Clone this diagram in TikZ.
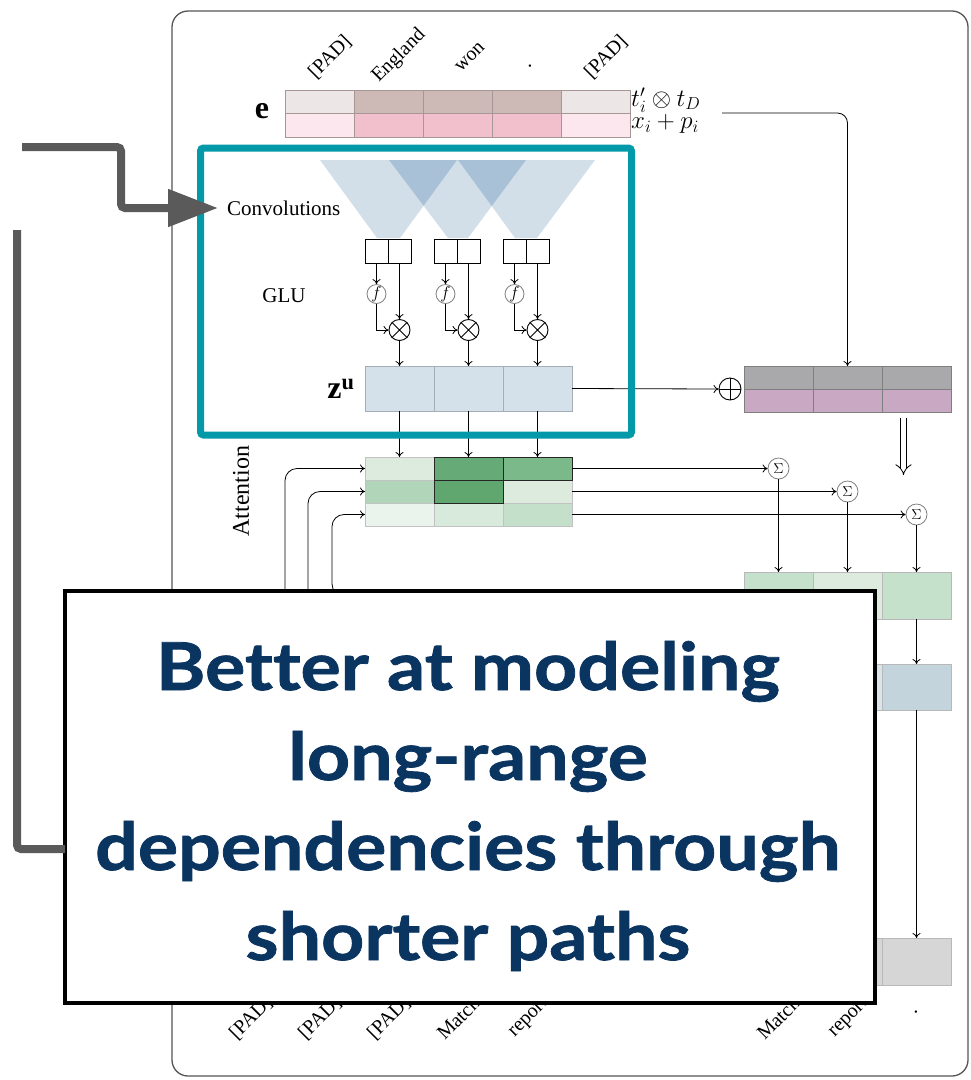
\documentclass[tikz,border=0pt]{standalone}
\usepackage{fontspec}
\setmainfont{Liberation Serif}
\newfontfamily\callout[FakeStretch=1.14, FakeBold=1.2, Ligatures=NoCommon]{Lato}
\usetikzlibrary{arrows.meta}
\definecolor{tealc}{HTML}{0499A8}
\definecolor{grayar}{HTML}{5A5A5A}
\definecolor{framec}{HTML}{555555}
\definecolor{navy}{HTML}{0B3561}
\definecolor{cellline}{HTML}{9A9A9A}
\definecolor{eline}{HTML}{A69796}
\definecolor{padt}{HTML}{ECE7E6}
\definecolor{wordt}{HTML}{CDB9B5}
\definecolor{padb}{HTML}{FBE7ED}
\definecolor{wordb}{HTML}{F2BFCC}
\definecolor{tric}{HTML}{D2DFE9}
\definecolor{triov}{HTML}{A9C1D6}
\definecolor{zuc}{HTML}{D4E0EA}
\definecolor{zul}{HTML}{A5AEB6}
\definecolor{rtc}{HTML}{A9A9AB}
\definecolor{rbc}{HTML}{C9A8C3}
\definecolor{rline}{HTML}{7F7F80}
\definecolor{gA}{HTML}{DDEBDE}
\definecolor{gB}{HTML}{66AB77}
\definecolor{gC}{HTML}{7CB98A}
\definecolor{gD}{HTML}{B1D5B8}
\definecolor{gE}{HTML}{5FA66F}
\definecolor{gF}{HTML}{EBF4EC}
\definecolor{gG}{HTML}{D8EADB}
\definecolor{gH}{HTML}{C4E0CA}
\definecolor{cA}{HTML}{C6E1CB}
\definecolor{cB}{HTML}{DCEBDD}
\definecolor{hA}{HTML}{D9E5EB}
\definecolor{hB}{HTML}{C3D4DD}
\definecolor{grC}{HTML}{D6D6D6}
\begin{document}
\begin{tikzpicture}[x=1pt,y=-1pt,
  cell/.style={draw=cellline, line width=0.8pt, minimum width=69pt, minimum height=23pt, inner sep=0pt, outer sep=0pt},
  arr/.style={-{To[length=5pt,width=8pt]}, line width=0.8pt},
  ln/.style={line width=0.8pt},
  lab/.style={font=\fontsize{21}{21}\selectfont, inner sep=0pt},
  tok/.style={rotate=45, font=\fontsize{20}{20}\selectfont, inner sep=0pt},
  gbox/.style={draw=black, line width=1pt, fill=white, minimum width=23pt, minimum height=24pt, inner sep=0pt, outer sep=0pt},
  fcirc/.style={circle, draw=gray, line width=0.8pt, minimum size=19pt, inner sep=0pt, font=\fontsize{18}{18}\selectfont},
  mcirc/.style={circle, draw=black, line width=0.9pt, minimum size=21pt, inner sep=0pt},
  sig/.style={circle, draw=gray, line width=0.8pt, minimum size=21pt, inner sep=0pt, font=\fontsize{14}{14}\selectfont},
  bigline/.style={grayar, line width=8pt, rounded corners=4pt}]
\useasboundingbox (0,0) rectangle (971,1080);
\fill[white] (0,0) rectangle (971,1080);
% frame
\draw[framec, line width=1.3pt, rounded corners=16pt] (172,11) rectangle (968,1076);
% top tokens
\node[tok] (tk1) at (330,57) {[PAD]};
\node[tok] (tk2) at (399,56) {England};
\node[tok] (tk3) at (470,57) {won};
\node[tok] (tk4) at (530,66) {.};
\node[tok] (tk5) at (606,57) {[PAD]};
% e row
\foreach \x/\ct/\cb [count=\i] in {320/padt/padb, 389/wordt/wordb, 458/wordt/wordb, 527/wordt/wordb, 596/padt/padb} {
  \node[cell, fill=\ct, draw=eline] (et\i) at (\x,101.5) {};
  \node[cell, fill=\cb, draw=eline, minimum height=24pt] (eb\i) at (\x,125) {};
}
\node[font=\fontsize{32}{32}\selectfont, inner sep=0pt] (elab) at (262,111) {$\mathbf{e}$};
\node[anchor=west, inner sep=0pt, font=\fontsize{26}{26}\selectfont] (tlab) at (631,100) {$t'_i\otimes t_D$};
\node[anchor=west, inner sep=0pt, font=\fontsize{26}{26}\selectfont] (xlab) at (631,124) {$x_i+p_i$};
% convolution triangles
\fill[tric] (320,160) -- (457,160) -- (400,238) -- (377,238) -- cycle;
\fill[tric] (389,160) -- (526,160) -- (468,238) -- (448,238) -- cycle;
\fill[tric] (458,160) -- (595,160) -- (537,238) -- (515,238) -- cycle;
\fill[triov] (389,160) -- (457,160) -- (423.6,205.7) -- cycle;
\fill[triov] (458,160) -- (526,160) -- (491.7,206) -- cycle;
\node[lab, anchor=west] (conv) at (227,208) {Convolutions};
\node[lab] (glu) at (284,296) {GLU};
% z^u cells
\foreach \x [count=\i] in {399.5,468.5,537.5} {
  \node[cell, fill=zuc, draw=zul, minimum height=45pt] (z\i) at (\x,388.5) {};
}
\node[font=\fontsize{32}{32}\selectfont, inner sep=0pt] (zlab) at (341,389) {$\mathbf{z}^{\mathbf{u}}$};
% GLU units
\foreach \xl/\xr [count=\i] in {376.5/399.5, 445.5/468.5, 514.5/537.5} {
  \node[gbox] (gl\i) at (\xl,251) {};
  \node[gbox] (gr\i) at (\xr,251) {};
  \node[fcirc] (f\i) at (\xl,294) {$f$};
  \node[mcirc] (m\i) at (\xr,330) {};
  \draw[ln] (m\i.north west) -- (m\i.south east) (m\i.north east) -- (m\i.south west);
  \draw[arr] (gl\i.south) -- (f\i.north);
  \draw[arr] (f\i.south) |- (m\i.west);
  \draw[arr] (gr\i.south) -- (m\i.north);
  \draw[arr] (m\i.south) -- (z\i.north);
}
% attention matrix
\foreach \x/\ca/\cb/\cc [count=\i] in {399.5/gA/gD/gF, 468.5/gB/gE/gG, 537.5/gC/gA/gH} {
  \node[cell, fill=\ca, draw=cellline!60] (a1\i) at (\x,468.5) {};
  \node[cell, fill=\cb, draw=cellline!60] (a2\i) at (\x,491.5) {};
  \node[cell, fill=\cc, draw=cellline!60] (a3\i) at (\x,514.5) {};
}
\draw[black!85, line width=1pt] (a12.north west) rectangle (a12.south east);
\draw[black!85, line width=1pt] (a13.north west) rectangle (a13.south east);
\draw[black!85, line width=1pt] (a22.north west) rectangle (a22.south east);
\foreach \i in {1,2,3} { \draw[arr] (z\i.south) -- (a1\i.north); }
\node[rotate=90, font=\fontsize{24}{24}\selectfont, inner sep=0pt] (attl) at (241,491) {Attention};
\coordinate (in1) at (285,600);
\coordinate (in2) at (308,600);
\coordinate (in3) at (346,596);
\draw[arr, rounded corners=12pt] (in1) |- (a11.west);
\draw[arr, rounded corners=12pt] (in2) |- (a21.west);
\draw[arr, rounded corners=12pt] (in3) -- (332,596) |- (a31.west);
% right side
\node[circle, draw, line width=0.9pt, minimum size=22pt, inner sep=0pt] (op) at (730,389) {};
\draw[ln] (op.north) -- (op.south) (op.west) -- (op.east);
\draw[arr] (z3.east) -- (op.west);
\foreach \x [count=\i] in {778.5,847.5,916.5} {
  \node[cell, fill=rtc, draw=rline] (r1\i) at (\x,377.5) {};
  \node[cell, fill=rbc, draw=rline] (r2\i) at (\x,400.5) {};
}
\coordinate (estart) at (722,113);
\draw[arr, rounded corners=10pt] (estart) -| (r12.north);
\coordinate (dtop) at (903.5,418);
\coordinate (dbot) at (903.5,475);
\draw[double, line width=0.8pt, double distance=5pt, -{Implies}] (dtop) -- (dbot);
\node[sig] (s1) at (778.5,468.5) {$\Sigma$};
\node[sig] (s2) at (847.5,491.5) {$\Sigma$};
\node[sig] (s3) at (916.5,514.5) {$\Sigma$};
\draw[arr] (a13.east) -- (s1.west);
\draw[arr] (a23.east) -- (s2.west);
\draw[arr] (a33.east) -- (s3.west);
\foreach \x/\cc/\hc [count=\i] in {778.5/cA/hA, 847.5/cB/hA, 916.5/cA/hB} {
  \node[cell, fill=\cc, draw=cellline!70, minimum height=47pt] (c\i) at (\x,595.5) {};
  \node[cell, fill=\hc, draw=cellline!70, minimum height=46pt] (h\i) at (\x,687) {};
  \node[cell, fill=grC, draw=cellline!70, minimum height=47pt] (g\i) at (\x,961.5) {};
  \draw[arr] (s\i.south) -- (c\i.north);
}
\draw[arr] (c3.south) -- (h3.north);
\draw[arr] (h3.south) -- (g3.north);
\node[font=\fontsize{20}{20}\selectfont, inner sep=0pt] (ell) at (728,597) {$\ell$};
% bottom tokens
\node[tok] (bt1) at (251,1018) {[PAD]};
\node[tok] (bt2) at (320,1018) {[PAD]};
\node[tok] (bt3) at (389,1018) {[PAD]};
\node[tok] (bt4) at (458,1018) {Match};
\node[tok] (bt5) at (529,1018) {report};
\node[tok] (bt6) at (778,1018) {Match};
\node[tok] (bt7) at (849,1018) {report};
\node[tok] (bt8) at (916,1012) {.};
% teal highlight
\draw[tealc, line width=7pt, rounded corners=3pt] (200.5,148) rectangle (631.5,435);
% gray arrows
\coordinate (gstart) at (22,147);
\draw[bigline, -{Triangle[length=50pt,width=36pt]}] (gstart) -- (121,147) |- ([xshift=-9pt]conv.west);
% callout
\node[draw=black, line width=4pt, fill=white, minimum width=810pt, minimum height=412pt, inner sep=0pt] (call) at (470,797) {};
\node[font=\callout\bfseries\fontsize{66}{90}\selectfont, text=navy, align=center, inner sep=0pt] (calltext) at (468,806) {Bet\kern0pt ter at modeling\\long-range\\dependencies through\\shorter paths};
\coordinate (bstart) at (17,230);
\coordinate (bend) at (65,849);
\draw[bigline] (bstart) |- (bend);
\end{tikzpicture}
\end{document}
